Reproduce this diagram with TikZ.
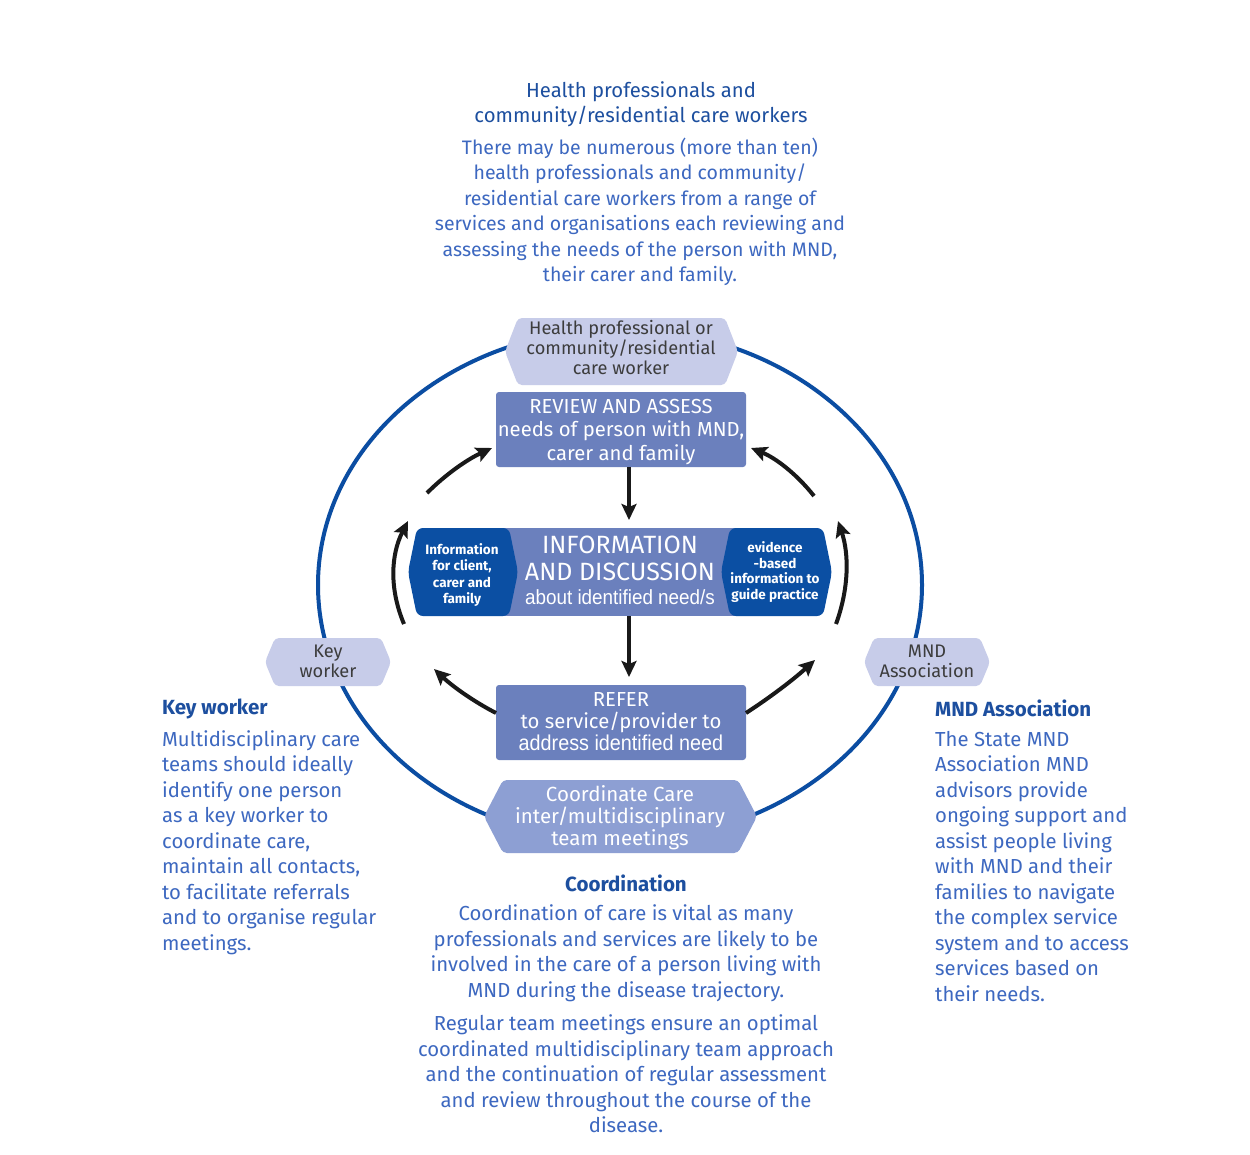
\documentclass[tikz,border=0pt]{standalone}
\usepackage{fontspec}
\setmainfont{Fira Sans}
\newfontfamily\narrowf[FakeStretch=0.92]{Liberation Sans}
\usetikzlibrary{arrows.meta,calc}
\definecolor{headblue}{HTML}{1D4F9F}
\definecolor{bodyblue}{HTML}{3D68C0}
\definecolor{ringblue}{HTML}{0B4DA2}
\definecolor{hexlight}{HTML}{C7CCE9}
\definecolor{boxblue}{HTML}{6B80BD}
\definecolor{darkblue}{HTML}{0B4FA3}
\definecolor{hexmid}{HTML}{8D9FD3}
\definecolor{graytext}{HTML}{3C3C3C}
\newcommand\hexshape[5]{(#1,{(#2+#4)/2}) -- (#1+#5,#2) -- (#3-#5,#2) -- (#3,{(#2+#4)/2}) -- (#3-#5,#4) -- (#1+#5,#4) -- cycle}
\newcommand\qcurve[3]{(#1) .. controls ($(#1)!0.6667!(#2)$) and ($(#3)!0.6667!(#2)$) .. (#3)}
\begin{document}
\begin{tikzpicture}[x=1pt,y=-1pt,
  txt/.style={inner sep=0pt, align=center},
  hdr/.style={txt, text=headblue, font=\fontsize{20.3}{25.5}\selectfont},
  hdrb/.style={txt, text=headblue, font=\bfseries\fontsize{20.5}{25.5}\selectfont},
  body/.style={txt, text=bodyblue, font=\fontsize{20.3}{25.5}\selectfont},
  hextxt/.style={txt, text=graytext, font=\fontsize{18.2}{20}\selectfont},
  boxtxt/.style={txt, text=white},
  arr/.style={line width=4pt, draw=black!90, -{Stealth[length=16pt,width=15pt,inset=3pt]}},
  ring/.style={line width=4pt, draw=ringblue},
  rc/.style={rounded corners=4pt}
]
\useasboundingbox (0,0) rectangle (1250,1154);
\fill[white] (0,0) rectangle (1250,1154);

% ring
\draw[ring] (620,585) ellipse [x radius=302, y radius=256];

% hexagons
\fill[hexlight, rc] \hexshape{505}{318}{738}{385}{13};
\fill[hexlight, rc] \hexshape{265}{638}{391}{686}{10};
\fill[hexlight, rc] \hexshape{864}{638}{990}{686}{10};
\fill[hexmid, rc] \hexshape{484}{780}{757}{853}{19};

% boxes
\fill[boxblue, rounded corners=3pt] (496,392) rectangle (746,467);
\fill[boxblue, rounded corners=3pt] (496,685) rectangle (746,760);
\fill[boxblue] (470,528) rectangle (770,616);
\fill[darkblue, rounded corners=6pt] \hexshape{408}{528}{518}{616}{9};
\fill[darkblue, rounded corners=6pt] \hexshape{721}{528}{832}{616}{9};

% hexagon / box texts
\node[hextxt] (hp) at (621,348) {Health professional or\\community/residential\\care worker};
\node[hextxt] (kw) at (328,661) {Key\\worker};
\node[hextxt] (mnd) at (927,661) {MND\\Association};
\node[boxtxt, font=\fontsize{20.5}{22}\selectfont] (coord) at (620,818) {Coordinate Care\\inter/multidisciplinary\\team meetings};
\node[boxtxt, font=\fontsize{20.3}{23.3}\selectfont] (review) at (621,432) {REVIEW AND ASSESS\\needs of person with MND,\\carer and family};
\node[boxtxt, font=\fontsize{20.3}{22}\selectfont] (refer) at (621,722) {REFER\\to service/provider to\\\narrowf\fontsize{21.5}{22}\selectfont address identified need};
\node[boxtxt, font=\fontsize{25}{27}\selectfont] (info) at (620,570) {INFORMATION\\AND DISCUSSION\\[-3pt]\narrowf\fontsize{20.5}{22}\selectfont about identified need/s};
\node[boxtxt, font=\bfseries\fontsize{13.5}{16.3}\selectfont] (infl) at (462,575) {Information\\for client,\\carer and\\family};
\node[boxtxt, font=\bfseries\fontsize{13.5}{15.8}\selectfont] (infr) at (775,572) {evidence\\-based\\information to\\guide practice};

% arrows
\coordinate (d1A) at (629,467); \coordinate (d1B) at (629,520);
\coordinate (d2A) at (629,616); \coordinate (d2B) at (629,677);
\draw[arr] (d1A) -- (d1B);
\draw[arr] (d2A) -- (d2B);
\coordinate (tlA) at (427,493); \coordinate (tlQ) at (455,465); \coordinate (tlB) at (492,448);
\coordinate (trA) at (814,496); \coordinate (trQ) at (788,463); \coordinate (trB) at (751,448);
\coordinate (blA) at (496,713); \coordinate (blQ) at (463,696); \coordinate (blB) at (434,669);
\coordinate (brA) at (746,713); \coordinate (brQ) at (783,689); \coordinate (brB) at (815,660);
\coordinate (lA) at (404,624); \coordinate (lQ) at (382,572); \coordinate (lB) at (408,521);
\coordinate (rA) at (836,624); \coordinate (rQ) at (855,572); \coordinate (rB) at (838,521);
\draw[arr] \qcurve{tlA}{tlQ}{tlB};
\draw[arr] \qcurve{trA}{trQ}{trB};
\draw[arr] \qcurve{blA}{blQ}{blB};
\draw[arr] \qcurve{brA}{brQ}{brB};
\draw[arr] \qcurve{lA}{lQ}{lB};
\draw[arr] \qcurve{rA}{rQ}{rB};

% texts
\node[hdr] (tophead) at (641,104) {Health professionals and\\community/residential care workers};
\node[body, font=\fontsize{19.5}{25.5}\selectfont] (topbody) at (640,212) {There may be numerous (more than ten)\\health professionals and community/\\residential care workers from a range of\\services and organisations each reviewing and\\assessing the needs of the person with MND,\\their carer and family.};

\node[hdrb, anchor=west] (kwhead) at (162,709) {Key worker};
\node[body, align=left, anchor=west] (kwbody) at (162,842.5) {Multidisciplinary care\\teams should ideally\\identify one person\\as a key worker to\\coordinate care,\\maintain all contacts,\\to facilitate referrals\\and to organise regular\\meetings.};

\node[hdrb, anchor=west] (mndhead) at (935,708) {MND Association};
\node[body, align=left, anchor=west] (mndbody) at (935,866.5) {The State MND\\Association MND\\advisors provide\\ongoing support and\\assist people living\\with MND and their\\families to navigate\\the complex service\\system and to access\\services based on\\their needs.};

\node[hdrb] (cohead) at (626,883) {Coordination};
\node[body] (cobody1) at (626,953) {Coordination of care is vital as many\\professionals and services are likely to be\\involved in the care of a person living with\\MND during the disease trajectory.};
\node[body] (cobody2) at (626,1074) {Regular team meetings ensure an optimal\\coordinated multidisciplinary team approach\\and the continuation of regular assessment\\and review throughout the course of the\\disease.};
\end{tikzpicture}
\end{document}
